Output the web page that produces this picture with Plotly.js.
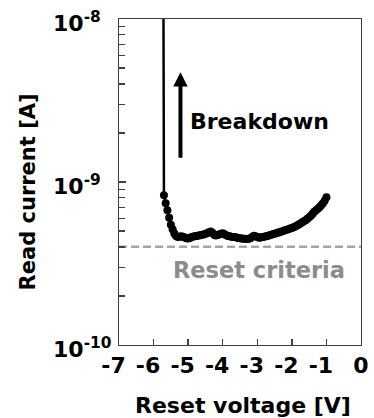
<!DOCTYPE html>
<html>
<head>
<meta charset="utf-8">
<script src="https://cdn.plot.ly/plotly-3.0.1.min.js"></script>
<style>html,body{margin:0;padding:0;background:#fff;}#chart{width:374px;height:418px;}</style>
</head>
<body>
<div id="chart"></div>
<script>
// Reset voltage [V]
var resetVoltage = [-5.75, -5.70, -5.65, -5.60, -5.55, -5.50, -5.45, -5.40, -5.35, -5.30,
  -5.25, -5.20, -5.15, -5.10, -5.05, -5.00, -4.95, -4.90, -4.85, -4.80,
  -4.75, -4.70, -4.65, -4.60, -4.55, -4.50, -4.45, -4.40, -4.35, -4.30,
  -4.25, -4.20, -4.15, -4.10, -4.05, -4.00, -3.95, -3.90, -3.85, -3.80,
  -3.75, -3.70, -3.65, -3.60, -3.55, -3.50, -3.45, -3.40, -3.35, -3.30,
  -3.25, -3.20, -3.15, -3.10, -3.05, -3.00, -2.95, -2.90, -2.85, -2.80,
  -2.75, -2.70, -2.65, -2.60, -2.55, -2.50, -2.45, -2.40, -2.35, -2.30,
  -2.25, -2.20, -2.15, -2.10, -2.05, -2.00, -1.95, -1.90, -1.85, -1.80,
  -1.75, -1.70, -1.65, -1.60, -1.55, -1.50, -1.45, -1.40, -1.35, -1.30,
  -1.25, -1.20, -1.15, -1.10, -1.05, -1.00];
// Read current in units of 1e-10 A (first point: breakdown, far off scale)
var readCurrent_e10 = [100000, 8.29, 7.41, 6.71, 6.04, 5.46, 5.13, 4.83, 4.67, 4.60,
  4.62, 4.65, 4.62, 4.57, 4.52, 4.50, 4.54, 4.60, 4.63, 4.65,
  4.67, 4.70, 4.72, 4.74, 4.77, 4.81, 4.85, 4.92, 4.97, 4.89,
  4.75, 4.70, 4.75, 4.76, 4.82, 4.85, 4.78, 4.72, 4.67, 4.65,
  4.62, 4.60, 4.59, 4.57, 4.54, 4.52, 4.50, 4.49, 4.49, 4.47,
  4.49, 4.52, 4.59, 4.68, 4.65, 4.59, 4.55, 4.57, 4.59, 4.62,
  4.65, 4.67, 4.72, 4.75, 4.78, 4.82, 4.85, 4.90, 4.92, 4.97,
  5.00, 5.06, 5.10, 5.13, 5.18, 5.23, 5.28, 5.33, 5.41, 5.49,
  5.56, 5.66, 5.74, 5.83, 5.95, 6.08, 6.21, 6.39, 6.57, 6.71,
  6.85, 7.00, 7.20, 7.41, 7.67, 8.05];
var readCurrent = readCurrent_e10.map(function(v){ return v * 1e-10; });

var resetCriteria = 4e-10;
var xRange = [-7, 0];
var xTickVals = [-7, -6, -5, -4, -3, -2, -1, 0];
var xTickText = ['-7\u2002', '-6\u2002', '-5\u2002', '-4\u2002', '-3\u2002', '-2\u2002', '-1\u2002', '0'];
var yDecades = [-10, -9, -8];          // log10 of the labelled currents
var yTickVals = [1e-10, 1e-9, 1e-8];
var yTickText = ['10<sup>-10</sup>', '10<sup>-9</sup>', '10<sup>-8</sup>'];

var FONT = 'DejaVu Sans, Verdana, sans-serif';
var LINE = '#404040';

var traces = [
  {
    x: xRange, y: [resetCriteria, resetCriteria],
    type: 'scatter', mode: 'lines',
    line: {color: '#a6a6a6', width: 2.5, dash: '8px,4px'},
    hoverinfo: 'skip', showlegend: false
  },
  {
    x: resetVoltage, y: readCurrent,
    type: 'scatter', mode: 'lines+markers',
    line: {color: '#000000', width: 2.5},
    marker: {color: '#000000', size: 8},
    showlegend: false
  }
];

// left-aligned y tick labels, as in the reference
var yLabelAnnotations = yDecades.map(function(d, i){
  return {
    xref: 'paper', yref: 'y', x: -0.282, y: d, showarrow: false,
    xanchor: 'left', yanchor: 'middle', yshift: -3,
    text: yTickText[i], font: {family: FONT, size: 22, color: '#000', weight: 'bold'}
  };
});

var layout = {
  width: 374, height: 418,
  margin: {l: 119, r: 13, t: 19, b: 73, pad: 0},
  paper_bgcolor: '#ffffff', plot_bgcolor: '#ffffff',
  font: {family: FONT, color: '#000000', size: 22, weight: 'bold'},
  showlegend: false,
  xaxis: {
    range: xRange, tickmode: 'array', tickvals: xTickVals, ticktext: xTickText,
    tickangle: 0,
    ticks: 'inside', ticklen: 6, tickwidth: 1.3, tickcolor: LINE,
    showline: true, linecolor: LINE, linewidth: 1.4, mirror: true,
    showgrid: false, zeroline: false,
    tickfont: {family: FONT, size: 22, color: '#000', weight: 'bold'}
  },
  yaxis: {
    type: 'log', range: [-10, -8], tickmode: 'array', tickvals: yTickVals,
    showticklabels: false,
    ticks: 'inside', ticklen: 7, tickwidth: 1.3, tickcolor: LINE,
    minor: {ticks: 'inside', ticklen: 6, tickwidth: 1.3, tickcolor: LINE, dtick: 'D1', showgrid: false},
    showline: true, linecolor: LINE, linewidth: 1.4, mirror: true,
    showgrid: false, zeroline: false
  },
  annotations: [
    {
      xref: 'paper', yref: 'paper', x: 0.254, y: 0.837,
      ax: 0, ay: 87, showarrow: true, arrowhead: 2, arrowsize: 0.72, arrowwidth: 4,
      arrowcolor: '#000', text: ''
    },
    {
      xref: 'paper', yref: 'paper', x: 0.582, y: 0.685, showarrow: false,
      text: 'Breakdown', font: {family: FONT, size: 22, color: '#000', weight: 'bold'},
      xanchor: 'center', yanchor: 'middle'
    },
    {
      xref: 'paper', yref: 'paper', x: 0.578, y: 0.230, showarrow: false,
      text: 'Reset criteria', font: {family: FONT, size: 22.5, color: '#8c8c8c', weight: 'bold'},
      xanchor: 'center', yanchor: 'middle'
    },
    {
      xref: 'paper', yref: 'paper', x: 0.513, y: -0.187, showarrow: false,
      text: 'Reset voltage [V]', font: {family: FONT, size: 22, color: '#000', weight: 'bold'},
      xanchor: 'center', yanchor: 'middle'
    },
    {
      xref: 'paper', yref: 'paper', x: -0.376, y: 0.468, showarrow: false, textangle: -90,
      text: 'Read current [A]', font: {family: FONT, size: 21, color: '#000', weight: 'bold'},
      xanchor: 'center', yanchor: 'middle'
    }
  ].concat(yLabelAnnotations)
};

Plotly.newPlot('chart', traces, layout, {staticPlot: true, displayModeBar: false});
</script>
</body>
</html>
